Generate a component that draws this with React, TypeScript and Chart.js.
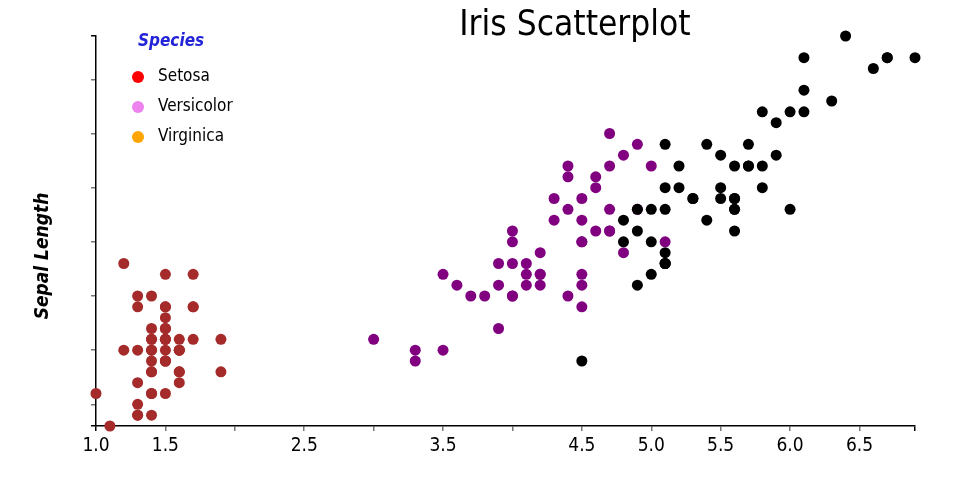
import React, { useEffect, useRef } from "react";
import { Chart, registerables } from "chart.js";

Chart.register(...registerables);

// Iris data: petal length (x) vs sepal length (y)
const setosaPetal = [1.4,1.4,1.3,1.5,1.4,1.7,1.4,1.5,1.4,1.5,1.5,1.6,1.4,1.1,1.2,1.5,1.3,1.4,1.7,1.5,1.7,1.5,1.0,1.7,1.9,1.6,1.6,1.5,1.4,1.6,1.6,1.5,1.5,1.4,1.5,1.2,1.3,1.5,1.3,1.5,1.3,1.3,1.3,1.6,1.9,1.4,1.6,1.4,1.5,1.4];
const setosaSepal = [5.1,4.9,4.7,4.6,5.0,5.4,4.6,5.0,4.4,4.9,5.4,4.8,4.8,4.3,5.8,5.7,5.4,5.1,5.7,5.1,5.4,5.1,4.6,5.1,4.8,5.0,5.0,5.2,5.2,4.7,4.8,5.4,5.2,5.5,4.9,5.0,5.5,4.9,4.4,5.1,5.0,4.5,4.4,5.0,5.1,4.8,5.1,4.6,5.3,5.0];
const versicolorPetal = [4.7,4.5,4.9,4.0,4.6,4.5,4.7,3.3,4.6,3.9,3.5,4.2,4.0,4.7,3.6,4.4,4.5,4.1,4.5,3.9,4.8,4.0,4.9,4.7,4.3,4.4,4.8,5.0,4.5,3.5,3.8,3.7,3.9,5.1,4.5,4.5,4.7,4.4,4.1,4.0,4.4,4.6,4.0,3.3,4.2,4.2,4.2,4.3,3.0,4.1];
const versicolorSepal = [7.0,6.4,6.9,5.5,6.5,5.7,6.3,4.9,6.6,5.2,5.0,5.9,6.0,6.1,5.6,6.7,5.6,5.8,6.2,5.6,5.9,6.1,6.3,6.1,6.4,6.6,6.8,6.7,6.0,5.7,5.5,5.5,5.8,6.0,5.4,6.0,6.7,6.3,5.6,5.5,5.5,6.1,5.8,5.0,5.6,5.7,5.7,6.2,5.1,5.7];
const virginicaPetal = [6.0,5.1,5.9,5.6,5.8,6.6,4.5,6.3,5.8,6.1,5.1,5.3,5.5,5.0,5.1,5.3,5.5,6.7,6.9,5.0,5.7,4.9,6.7,4.9,5.7,6.0,4.8,4.9,5.6,5.8,6.1,6.4,5.6,5.1,5.6,6.1,5.6,5.5,4.8,5.4,5.6,5.1,5.1,5.9,5.7,5.2,5.0,5.2,5.4,5.1];
const virginicaSepal = [6.3,5.8,7.1,6.3,6.5,7.6,4.9,7.3,6.7,7.2,6.5,6.4,6.8,5.7,5.8,6.4,6.5,7.7,7.7,6.0,6.9,5.6,7.7,6.3,6.7,7.2,6.2,6.1,6.4,7.2,7.4,7.9,6.4,6.3,6.1,7.7,6.3,6.4,6.0,6.9,6.7,6.9,5.8,6.8,6.7,6.7,6.3,6.5,6.2,5.9];

const speciesNames = ["Setosa", "Versicolor", "Virginica"];
const pointColors = ["#a52a2a", "#800080", "#000000"];
const legendColors = ["#ff0000", "#ee82ee", "#ffa500"];

const xTickValues = [1.0,1.5,2.0,2.5,3.0,3.5,4.0,4.5,5.0,5.5,6.0,6.5,6.9];
const xTickLabels = ["1.0","1.5","","2.5","","3.5","","4.5","5.0","5.5","6.0","6.5",""];
const yTickValues = [4.3,4.5,5.0,5.5,6.0,6.5,7.0,7.5,7.9];

const titleText = "Iris Scatterplot";
const yTitleText = "Sepal Length";
const legendTitleText = "Species";

const FONT = '"DejaVu Sans Condensed", "Liberation Sans Narrow", sans-serif';

function toPoints(xs: number[], ys: number[]) {
  return xs.map((x, i) => ({ x, y: ys[i] }));
}

const decorPlugin = {
  id: "decor",
  afterDraw(chart: any) {
    const ctx = chart.ctx as CanvasRenderingContext2D;
    ctx.save();
    // Title
    ctx.fillStyle = "#000";
    ctx.font = `35px ${FONT}`;
    ctx.textAlign = "center";
    ctx.textBaseline = "middle";
    ctx.fillText(titleText, 575, 26);
    // Y title
    ctx.save();
    ctx.translate(43, 256);
    ctx.rotate(-Math.PI / 2);
    ctx.font = `italic bold 19px ${FONT}`;
    ctx.fillText(yTitleText, 0, 0);
    ctx.restore();
    // Legend
    ctx.textAlign = "left";
    ctx.font = `italic bold 17px ${FONT}`;
    ctx.fillStyle = "#2323d8";
    ctx.fillText(legendTitleText, 138, 42);
    ctx.font = `17px ${FONT}`;
    speciesNames.forEach((name, i) => {
      const y = 77 + i * 30;
      ctx.fillStyle = legendColors[i];
      ctx.beginPath();
      ctx.arc(138, y, 6, 0, Math.PI * 2);
      ctx.fill();
      ctx.fillStyle = "#000";
      ctx.fillText(name, 158, y);
    });
    ctx.restore();
  },
};

export default function App() {
  const ref = useRef<HTMLCanvasElement>(null);
  useEffect(() => {
    if (!ref.current) return;
    const tickColor = (ctx: any, n: number) =>
      ctx.index === 0 || ctx.index === n - 1 ? "#000" : "#777";
    const chart = new Chart(ref.current, {
      type: "scatter",
      data: {
        datasets: [
          { label: speciesNames[0], data: toPoints(setosaPetal, setosaSepal), backgroundColor: pointColors[0], order: 3, clip: false },
          { label: speciesNames[1], data: toPoints(versicolorPetal, versicolorSepal), backgroundColor: pointColors[1], order: 2, clip: false },
          { label: speciesNames[2], data: toPoints(virginicaPetal, virginicaSepal), backgroundColor: pointColors[2], order: 1, clip: false },
        ],
      },
      options: {
        responsive: false,
        animation: false,
        layout: { padding: { left: 0, right: 45, top: 36, bottom: 0 } },
        elements: { point: { radius: 5.5, borderWidth: 0, hoverRadius: 5.5 } },
        plugins: { legend: { display: false }, title: { display: false }, tooltip: { enabled: false } },
        scales: {
          x: {
            type: "linear",
            min: 1.0,
            max: 6.9,
            afterBuildTicks: (s: any) => { s.ticks = xTickValues.map((v) => ({ value: v })); },
            afterFit: (s: any) => { s.height = 74; },
            ticks: {
              autoSkip: false,
              maxRotation: 0,
              padding: 4,
              color: "#000",
              font: { family: FONT, size: 19 },
              callback: (_v: any, i: number) => xTickLabels[i],
            },
            grid: {
              drawOnChartArea: false,
              tickLength: 5,
              lineWidth: 1.5,
              color: (c: any) => tickColor(c, xTickValues.length),
            },
            border: { color: "#000", width: 1.5 },
          },
          y: {
            type: "linear",
            min: 4.3,
            max: 7.9,
            afterBuildTicks: (s: any) => { s.ticks = yTickValues.map((v) => ({ value: v })); },
            afterFit: (s: any) => { s.width = 96; },
            ticks: { display: false },
            grid: {
              drawOnChartArea: false,
              tickLength: 5,
              lineWidth: 1.5,
              color: (c: any) => tickColor(c, yTickValues.length),
            },
            border: { color: "#000", width: 1.5 },
          },
        },
      },
      plugins: [decorPlugin],
    });
    return () => chart.destroy();
  }, []);
  return (
    <div style={{ position: "absolute", left: 0, top: 0, width: 960, height: 500, background: "#fff" }}>
      <canvas ref={ref} width={960} height={500} />
    </div>
  );
}
